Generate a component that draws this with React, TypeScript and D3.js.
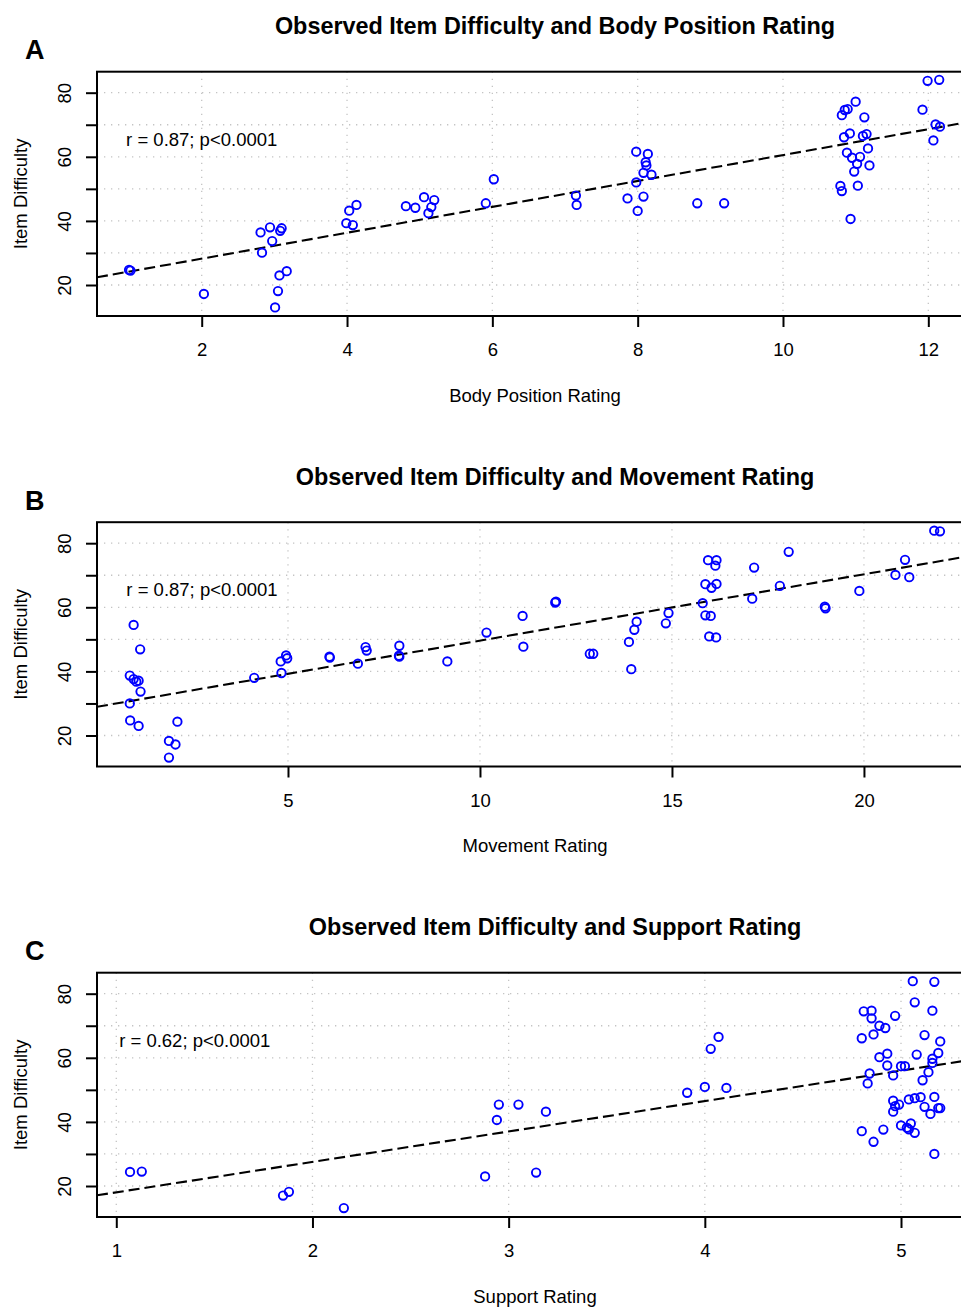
import React, { useEffect, useRef } from 'react';
import * as d3 from 'd3';

// item difficulty against three rating scales

const bodyRating = [1.0, 1.02, 2.03, 2.81, 2.94, 3.08, 3.1, 2.97, 2.83, 3.07, 3.17, 3.05, 3.01, 3.99, 4.08, 4.03, 4.13,
  4.81, 4.94, 5.06, 5.2, 5.16, 5.12, 5.91, 6.02,
  7.15, 7.16, 7.86, 7.98, 8.14, 8.11, 8.12, 8.08, 8.19, 7.98, 8.08, 8.0, 8.82, 9.19,
  10.81, 10.85, 10.89, 11.0, 11.12, 10.84, 10.92, 11.1, 11.15, 11.17, 10.88, 10.95, 11.06, 11.02, 11.19, 10.98, 10.79, 10.81, 11.03, 10.93,
  11.99, 12.15, 11.92, 12.1, 12.16, 12.07];
const bodyDifficulty = [24.7, 24.5, 17.2, 36.4, 38.0, 36.9, 37.7, 33.7, 30.1, 23.0, 24.3, 18.1, 13.0, 39.3, 38.7, 43.2, 45.0,
  44.6, 44.1, 47.4, 46.5, 44.3, 42.4, 45.5, 53.0,
  47.9, 45.0, 47.0, 61.6, 60.9, 58.3, 57.3, 55.0, 54.4, 52.0, 47.6, 43.1, 45.5, 45.5,
  73.0, 74.6, 74.9, 77.2, 72.3, 66.1, 67.3, 66.5, 67.1, 62.6, 61.3, 59.7, 60.0, 57.8, 57.3, 55.4, 50.9, 49.3, 51.0, 40.6,
  83.7, 84.0, 74.7, 70.1, 69.4, 65.1];

const movementRating = [0.98, 1.15, 0.88, 0.98, 1.05, 1.11, 1.16, 0.88, 0.89, 1.11, 2.12, 1.9, 2.07, 1.9,
  4.12, 4.83, 4.81, 4.95, 4.98, 6.08, 6.09, 6.82, 7.02, 7.05, 7.9, 7.89, 7.9, 9.15, 10.17, 11.11, 11.13,
  11.96, 11.98, 12.86, 12.95, 13.88, 14.02, 14.08, 13.94, 14.84, 14.91,
  15.8, 15.94, 16.16, 16.13, 15.87, 16.03, 16.16, 15.87, 16.01, 15.97, 16.15,
  17.14, 17.09, 18.04, 17.81, 18.98, 19.0, 19.88, 20.82, 21.07, 21.18, 21.83, 21.98];
const movementDifficulty = [54.5, 46.9, 38.7, 37.6, 36.8, 37.1, 33.7, 30.0, 24.7, 23.0, 24.3, 18.3, 17.2, 13.1,
  38.0, 39.5, 43.1, 45.0, 44.1, 44.6, 44.3, 42.4, 47.6, 46.5, 48.0, 44.9, 44.6, 43.1, 52.1, 57.3, 47.7,
  61.5, 61.8, 45.5, 45.5, 49.2, 53.0, 55.5, 40.7, 55.0, 58.2,
  61.3, 74.7, 74.7, 73.0, 67.2, 66.1, 67.3, 57.5, 57.3, 50.9, 50.6,
  72.4, 62.7, 77.3, 66.7, 60.2, 59.7, 65.1, 70.1, 74.8, 69.4, 83.9, 83.7];

const supportRating = [1.07, 1.13, 1.85, 1.88, 2.16, 2.88, 2.94, 2.95, 3.05, 3.14, 3.19, 3.91, 4.0, 4.11, 4.03, 4.07,
  5.06, 5.17, 5.07, 5.16, 4.81, 4.85, 4.85, 4.97, 4.89, 4.92, 4.8, 4.86, 5.12, 5.2, 5.19, 5.16, 5.16, 5.08,
  4.93, 4.89, 4.93, 5.0, 5.02, 5.14, 4.96, 4.84, 4.83, 5.11, 5.04, 5.07, 5.1, 5.17, 4.96, 4.99, 4.97, 5.12,
  5.19, 5.2, 4.96, 5.15, 4.8, 4.91, 4.86, 5.0, 5.03, 5.05, 5.04, 5.07, 5.17];
const supportDifficulty = [24.4, 24.5, 17.0, 18.2, 13.1, 23.0, 40.6, 45.4, 45.4, 24.2, 43.2, 49.1, 50.9, 50.6, 62.8, 66.5,
  83.9, 83.7, 77.3, 74.7, 74.5, 74.7, 72.3, 73.1, 70.0, 69.3, 66.1, 67.3, 67.1, 65.1, 61.5, 59.7, 58.4, 61.0,
  61.3, 60.2, 57.6, 57.4, 57.4, 55.5, 54.5, 55.1, 52.0, 53.0, 47.0, 47.4, 47.7, 47.8, 46.6, 45.4, 44.9, 44.7,
  44.3, 44.3, 43.2, 42.5, 37.1, 37.6, 33.8, 38.9, 38.2, 39.5, 37.7, 36.6, 30.0];

const titles = ['Observed Item Difficulty and Body Position Rating', 'Observed Item Difficulty and Movement Rating', 'Observed Item Difficulty and Support Rating'];
const xLabels = ['Body Position Rating', 'Movement Rating', 'Support Rating'];
const panelLetters = ['A', 'B', 'C'];
const xTicks = [[2, 4, 6, 8, 10, 12], [5, 10, 15, 20], [1, 2, 3, 4, 5]];
const yTicks = [20, 30, 40, 50, 60, 70, 80];
const xDomains = [[0.559, 12.615], [0.026, 22.84], [0.9017, 5.367]];
const yDomain = [10.33, 86.55];
// fitted lines: intercept, slope
const fitIntercepts = [20.14, 28.9, 8.54];
const fitSlopes = [4.04, 2.07, 9.49];
const corrLabels = ['r = 0.87; p<0.0001', 'r = 0.87; p<0.0001', 'r = 0.62; p<0.0001'];
const labelX = [2, 2.76, 1.4];
const labelY = 65.5;

const FONT = '"Liberation Sans", Arial, Helvetica, sans-serif';

const App = () => {
  const chartRef = useRef(null);
  const width = 961;
  const height = 1307;

  useEffect(() => {
    const svg = d3.select(chartRef.current);
    svg.selectAll('*').remove();

    const panels = [
      { x: bodyRating, y: bodyDifficulty },
      { x: movementRating, y: movementDifficulty },
      { x: supportRating, y: supportDifficulty },
    ];

    const left = 97, right = 973, plotH = 244.3, step = 450.5, firstTop = 71.7;

    panels.forEach((p, i) => {
      const top = firstTop + i * step;
      const bottom = top + plotH;
      const xScale = d3.scaleLinear().domain(xDomains[i]).range([left, right]);
      const yScale = d3.scaleLinear().domain(yDomain).range([bottom, top]);
      const g = svg.append('g').attr('font-family', FONT);

      const clipId = `clip-${i}`;
      g.append('clipPath').attr('id', clipId)
        .append('rect').attr('x', left).attr('y', top).attr('width', right - left).attr('height', plotH);

      // grid
      const grid = g.append('g').attr('stroke', '#c4c4c4').attr('stroke-width', 1.3).attr('stroke-dasharray', '1.3,5.7');
      grid.selectAll('line.gx').data(xTicks[i]).join('line')
        .attr('x1', d => xScale(d)).attr('x2', d => xScale(d)).attr('y1', top).attr('y2', bottom);
      grid.selectAll('line.gy').data(yTicks).join('line')
        .attr('y1', d => yScale(d)).attr('y2', d => yScale(d)).attr('x1', left).attr('x2', right);

      // regression line
      const [x0, x1] = xDomains[i];
      g.append('line')
        .attr('clip-path', `url(#${clipId})`)
        .attr('x1', xScale(x0)).attr('y1', yScale(fitIntercepts[i] + fitSlopes[i] * x0))
        .attr('x2', xScale(x1)).attr('y2', yScale(fitIntercepts[i] + fitSlopes[i] * x1))
        .attr('stroke', '#000').attr('stroke-width', 2.1).attr('stroke-dasharray', '11,5');

      // points
      g.append('g').attr('clip-path', `url(#${clipId})`)
        .selectAll('circle').data(p.x).join('circle')
        .attr('cx', d => xScale(d)).attr('cy', (d, j) => yScale(p.y[j]))
        .attr('r', 4.2).attr('fill', 'none').attr('stroke', '#0000ff').attr('stroke-width', 1.9);

      // box
      g.append('rect').attr('x', left).attr('y', top).attr('width', right - left).attr('height', plotH)
        .attr('fill', 'none').attr('stroke', '#000').attr('stroke-width', 2);

      // x axis
      const xAxis = d3.axisBottom(xScale).tickValues(xTicks[i]).tickFormat(d3.format('d'))
        .tickSize(11).tickPadding(16).tickSizeOuter(0);
      g.append('g').attr('transform', `translate(0, ${bottom})`).call(xAxis)
        .call(s => s.select('.domain').remove())
        .call(s => s.selectAll('line').attr('stroke-width', 2))
        .call(s => s.selectAll('text').attr('font-size', 18.5).attr('font-family', FONT).attr('fill', '#000'));

      // y axis
      const yAxis = d3.axisLeft(yScale).tickValues(yTicks).tickSize(11).tickFormat(d => (d % 20 === 0 ? String(d) : ''));
      g.append('g').attr('transform', `translate(${left}, 0)`).call(yAxis)
        .call(s => s.select('.domain').remove())
        .call(s => s.selectAll('line').attr('stroke-width', 2))
        .call(s => s.selectAll('text')
          .attr('x', null).attr('dy', null)
          .attr('font-size', 18.5).attr('font-family', FONT).attr('fill', '#000')
          .attr('text-anchor', 'middle')
          .attr('transform', 'translate(-26.3, 0) rotate(-90)'));

      // labels
      g.append('text').attr('x', 555).attr('y', top - 37.5).attr('text-anchor', 'middle')
        .attr('font-size', 23.4).attr('font-weight', 'bold').text(titles[i]);
      g.append('text').attr('x', 25).attr('y', top - 12.5)
        .attr('font-size', 27).attr('font-weight', 'bold').text(panelLetters[i]);
      g.append('text').attr('x', (left + right) / 2).attr('y', bottom + 85.7).attr('text-anchor', 'middle')
        .attr('font-size', 18.5).text(xLabels[i]);
      g.append('text').attr('transform', `translate(27, ${(top + bottom) / 2}) rotate(-90)`).attr('text-anchor', 'middle')
        .attr('font-size', 18.5).text('Item Difficulty');
      g.append('text').attr('x', xScale(labelX[i])).attr('y', yScale(labelY)).attr('dy', '0.35em')
        .attr('text-anchor', 'middle').attr('font-size', 18.5).text(corrLabels[i]);
    });
  });

  return (
    <svg
      ref={chartRef}
      width={width}
      height={height}
      viewBox={`0 0 ${width} ${height}`}
      style={{ position: 'absolute', left: 0, top: 0, background: '#fff' }}
    />
  );
};

export default App;
